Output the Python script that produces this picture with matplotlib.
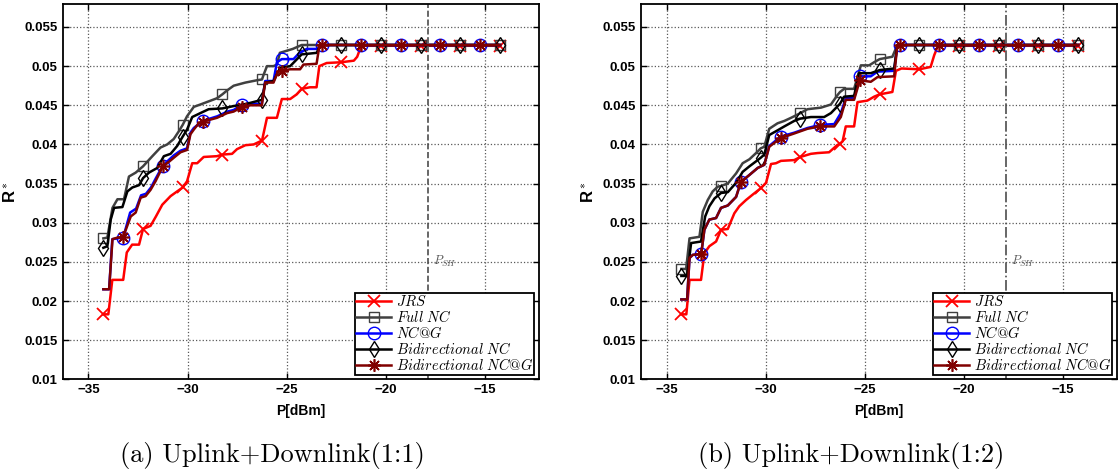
import numpy as np
import matplotlib
matplotlib.use('Agg')
import matplotlib.pyplot as plt

plt.rcParams['mathtext.fontset'] = 'cm'
plt.rcParams['font.family'] = ['Liberation Sans', 'DejaVu Sans']

# marker positions (dB)
MK_EVEN = [-34.25, -32.25, -30.25, -28.25, -26.25, -24.25, -22.25, -20.25, -18.25, -16.25, -14.25]
MK_ODD = [-33.25, -31.25, -29.25, -27.25, -25.25, -23.25, -21.25, -19.25, -17.25, -15.25]
P_SH = -17.9

# ---- (a) Uplink+Downlink(1:1) ----
a_jrs_x = [-34.25, -34.0, -33.8, -33.25, -33.07, -32.8, -32.45, -32.25, -31.87, -31.6, -31.28, -30.86, -30.53,
           -30.25, -30.03, -29.77, -29.52, -29.19, -28.52, -28.25, -27.76, -27.51, -27.09, -26.67, -26.25, -26.0,
           -25.5, -25.25, -24.83, -24.5, -24.25, -23.83, -23.5, -23.36, -22.99, -22.25, -21.62, -21.45, -21.25,
           -20.25, -18.25, -16.25, -14.25]
a_jrs_y = [.0183, .0183, .0227, .0227, .0262, .0272, .0272, .0292, .0296, .0308, .0323, .0334, .0340,
           .0345, .0353, .0376, .0376, .0384, .0385, .0387, .0388, .0394, .0399, .0400, .0405, .0434,
           .0434, .0458, .0458, .0464, .0471, .0473, .0473, .0500, .0504, .0505, .0507, .0512, .0526,
           .0526, .0526, .0526, .0526]

a_full_x = [-34.25, -34.05, -33.79, -33.54, -33.21, -32.96, -32.62, -32.25, -31.78, -31.37, -31.03, -30.7, -30.44,
            -30.25, -30.03, -29.69, -29.36, -28.94, -28.52, -28.25, -28.01, -27.68, -27.09, -26.5, -26.25, -26.17,
            -26.0, -25.67, -25.5, -25.35, -24.7, -24.25, -22.25, -20.25, -18.25, -16.25, -14.25]
a_full_y = [.0280, .0281, .0319, .0330, .0330, .0359, .0364, .0372, .0385, .0396, .0400, .0407, .0417,
            .0425, .0436, .0448, .0451, .0455, .0459, .0464, .0469, .0475, .0479, .0482, .0483, .0489,
            .0500, .0500, .0502, .0517, .0522, .0527, .0527, .0527, .0527, .0527, .0527]

a_ncg_x = [-34.25, -33.96, -33.8, -33.25, -32.9, -32.6, -32.35, -32.1, -31.85, -31.6, -31.25, -31.0, -30.7,
           -30.36, -30.03, -29.86, -29.69, -29.25, -28.5, -28.0, -27.68, -27.25, -26.84, -26.26, -26.09, -25.67,
           -25.5, -25.25, -24.66, -24.4, -24.0, -23.45, -23.25, -21.25, -19.25, -17.25, -15.25, -14.25]
a_ncg_y = [.0215, .0215, .0279, .0281, .0313, .0318, .0335, .0337, .0345, .0357, .0373, .0379, .0386,
           .0392, .0395, .0415, .0421, .0430, .0436, .0442, .0444, .0451, .0452, .0452, .0481, .0481,
           .0505, .0509, .0509, .0516, .0522, .0522, .0527, .0527, .0527, .0527, .0527, .0527]

a_bnc_x = [-34.25, -34.05, -33.88, -33.71, -33.29, -33.04, -32.79, -32.45, -32.25, -31.95, -31.53, -31.2, -30.86,
           -30.53, -30.25, -30.03, -29.77, -29.36, -28.94, -28.25, -27.68, -27.01, -26.25, -26.09, -25.67, -25.33,
           -24.83, -24.25, -23.49, -23.32, -22.25, -20.25, -18.25, -16.25, -14.25]
a_bnc_y = [.0268, .0270, .0304, .0319, .0320, .0340, .0345, .0348, .0357, .0364, .0370, .0385, .0388,
           .0398, .0410, .0419, .0435, .0440, .0445, .0446, .0449, .0452, .0457, .0479, .0481, .0498,
           .0500, .0515, .0517, .0527, .0527, .0527, .0527, .0527, .0527]

a_bncg_x = [-34.25, -33.96, -33.79, -33.54, -33.25, -32.87, -32.62, -32.37, -32.12, -31.87, -31.62, -31.25, -31.03,
            -30.7, -30.36, -30.03, -29.86, -29.69, -29.44, -29.25, -28.52, -28.01, -27.68, -27.25, -26.84, -26.26,
            -26.09, -25.67, -25.45, -25.25, -24.83, -24.33, -24.16, -23.5, -23.35, -23.25, -21.25, -19.25, -17.25,
            -15.25, -14.25]
a_bncg_y = [.0215, .0215, .0279, .0281, .0282, .0308, .0313, .0332, .0334, .0342, .0353, .0372, .0376,
            .0383, .0390, .0393, .0413, .0419, .0427, .0429, .0434, .0440, .0442, .0448, .0450, .0450,
            .0479, .0479, .0493, .0494, .0496, .0496, .0502, .0503, .0527, .0527, .0527, .0527, .0527,
            .0527, .0527]

# ---- (b) Uplink+Downlink(1:2) ----
b_jrs_x = [-34.25, -34.0, -33.84, -33.26, -33.09, -32.84, -32.5, -32.25, -31.91, -31.58, -31.33, -30.99, -30.65,
           -30.25, -29.98, -29.73, -29.48, -29.23, -28.56, -28.25, -27.72, -27.38, -26.8, -26.4, -26.25, -26.12,
           -25.96, -25.54, -25.37, -24.87, -24.53, -24.25, -23.61, -23.43, -23.15, -22.25, -21.68, -21.5, -21.31,
           -20.25, -18.25, -16.25, -14.25]
b_jrs_y = [.0183, .0183, .0227, .0227, .0261, .0270, .0276, .0291, .0292, .0312, .0321, .0329, .0336,
           .0344, .0351, .0375, .0376, .0379, .0380, .0384, .0388, .0389, .0390, .0399, .0401, .0404,
           .0423, .0423, .0454, .0456, .0461, .0464, .0467, .0494, .0497, .0496, .0499, .0514, .0526,
           .0526, .0526, .0526, .0526]

b_full_x = [-34.25, -34.01, -33.84, -33.34, -33.17, -32.92, -32.67, -32.42, -32.25, -31.91, -31.49, -31.16, -30.82,
            -30.4, -30.25, -30.07, -29.82, -29.4, -29.06, -28.72, -28.25, -27.89, -27.21, -26.71, -26.38, -26.25,
            -26.04, -25.54, -25.2, -24.78, -24.53, -24.25, -23.61, -23.36, -22.25, -20.25, -18.25, -16.25, -14.25]
b_full_y = [.0241, .0241, .0280, .0282, .0314, .0329, .0340, .0346, .0347, .0350, .0363, .0376, .0381,
            .0391, .0395, .0397, .0420, .0427, .0430, .0434, .0440, .0445, .0447, .0451, .0463, .0467,
            .0471, .0471, .0501, .0501, .0505, .0509, .0512, .0527, .0527, .0527, .0527, .0527, .0527]

b_ncg_x = [-34.25, -33.96, -33.84, -33.67, -33.25, -33.09, -32.84, -32.5, -32.25, -31.91, -31.49, -31.25, -30.82,
           -30.4, -30.07, -29.82, -29.25, -28.56, -27.89, -27.25, -26.54, -26.21, -25.96, -25.54, -25.25, -24.7,
           -24.36, -23.52, -23.36, -23.25, -21.25, -19.25, -17.25, -15.25, -14.25]
b_ncg_y = [.0202, .0202, .0255, .0259, .0260, .0291, .0304, .0306, .0319, .0322, .0333, .0352, .0361,
           .0370, .0374, .0398, .0410, .0415, .0421, .0425, .0426, .0440, .0459, .0459, .0487, .0487,
           .0493, .0494, .0527, .0527, .0527, .0527, .0527, .0527, .0527]

b_bnc_x = [-34.25, -33.96, -33.76, -33.26, -33.05, -32.84, -32.58, -32.25, -31.91, -31.49, -31.16, -30.82, -30.4,
           -30.25, -30.07, -29.82, -29.4, -29.06, -28.56, -28.25, -27.72, -27.05, -26.71, -26.25, -26.04, -25.54,
           -25.29, -24.7, -24.25, -23.52, -23.36, -22.25, -20.25, -18.25, -16.25, -14.25]
b_bnc_y = [.0232, .0232, .0274, .0276, .0308, .0321, .0331, .0338, .0339, .0351, .0365, .0372, .0380,
           .0383, .0387, .0412, .0418, .0423, .0430, .0433, .0435, .0435, .0440, .0452, .0461, .0462,
           .0491, .0491, .0495, .0497, .0527, .0527, .0527, .0527, .0527, .0527]

b_bncg_x = [-34.25, -33.96, -33.84, -33.67, -33.25, -33.09, -32.84, -32.5, -32.25, -31.91, -31.49, -31.25, -30.82,
            -30.4, -30.07, -29.82, -29.25, -28.56, -27.89, -27.25, -26.54, -26.21, -25.96, -25.54, -25.25, -24.7,
            -24.36, -23.52, -23.36, -23.25, -21.25, -19.25, -17.25, -15.25, -14.25]
b_bncg_y = [.0202, .0202, .0255, .0259, .0260, .0291, .0304, .0306, .0319, .0322, .0333, .0352, .0361,
            .0370, .0374, .0397, .0408, .0414, .0420, .0423, .0423, .0435, .0457, .0457, .0482, .0480,
            .0486, .0487, .0527, .0527, .0527, .0527, .0527, .0527, .0527]

LABELS = [r'$JRS$', r'$Full\ NC$', r'$NC@G$', r'$Bidirectional\ NC$', r'$Bidirectional\ NC@G$']
STYLES = [
    dict(color='#ff0000', marker='x', ms=8.5, mew=1.3, lw=1.8),
    dict(color='#404040', marker='s', ms=7.5, mew=1.0, mfc='none', lw=1.8),
    dict(color='#0000ff', marker='o', ms=9, mew=1.0, mfc='none', lw=1.8),
    dict(color='#000000', marker='d', ms=8.2, mew=1.0, mfc='none', lw=1.8),
    dict(color='#800000', marker=(8, 2, 0), ms=9, mew=1.2, lw=1.8),
]
MARKS = [MK_EVEN, MK_EVEN, MK_ODD, MK_EVEN, MK_ODD]

panels = [
    ('(a) Uplink+Downlink(1:1)', '--',
     [(a_jrs_x, a_jrs_y), (a_full_x, a_full_y), (a_ncg_x, a_ncg_y), (a_bnc_x, a_bnc_y), (a_bncg_x, a_bncg_y)]),
    ('(b) Uplink+Downlink(1:2)', '-.',
     [(b_jrs_x, b_jrs_y), (b_full_x, b_full_y), (b_ncg_x, b_ncg_y), (b_bnc_x, b_bnc_y), (b_bncg_x, b_bncg_y)]),
]

fig = plt.figure(figsize=(11.18, 4.72), dpi=100)
lefts = [0.0561, 0.5731]

for left, (caption, psh_ls, series) in zip(lefts, panels):
    ax = fig.add_axes([left, 0.1964, 0.4257, 0.7945])
    for (xs, ys), lab, st, mk in zip(series, LABELS, STYLES, MARKS):
        xs = np.array(xs)
        idx = [int(np.argmin(np.abs(xs - m))) for m in mk]
        ax.plot(xs, ys, label=lab, markevery=idx, **st)

    ax.axvline(P_SH, color='0.3', ls=psh_ls, lw=1.2)
    ax.text(P_SH + 0.25, 0.025, r'$P_{SH}$', fontsize=9, color='0.35', va='center')

    ax.set_xlim(-36.3, -12.3)
    ax.set_ylim(0.01, 0.0579)
    ax.set_xticks([-35, -30, -25, -20, -15])
    ax.set_xticklabels(['\u221235', '\u221230', '\u221225', '\u221220', '\u221215'])
    ax.set_yticks([0.01, 0.015, 0.02, 0.025, 0.03, 0.035, 0.04, 0.045, 0.05, 0.055])
    ax.set_yticklabels(['0.01', '0.015', '0.02', '0.025', '0.03', '0.035', '0.04', '0.045', '0.05', '0.055'])
    ax.tick_params(direction='in', top=True, right=True, length=4, width=1, labelsize=9.5)
    for lbl in ax.get_xticklabels() + ax.get_yticklabels():
        lbl.set_fontweight('bold')
    for sp in ax.spines.values():
        sp.set_linewidth(1.3)
    ax.grid(True, ls=':', color='0.35', lw=0.9)

    ax.set_xlabel('P[dBm]', fontsize=10, fontweight='bold', labelpad=6)
    ax.set_ylabel(r'R$^*$', fontsize=12, fontweight='bold', labelpad=4)

    leg = ax.legend(loc='lower right', fontsize=10.5, frameon=True, fancybox=False, framealpha=1,
                    edgecolor='black', borderaxespad=0.3, labelspacing=0.0, handlelength=2.4,
                    handletextpad=0.3, borderpad=0.1)
    leg.get_frame().set_linewidth(1.3)

    fig.text(left + 0.4257 / 2 - 0.025, 0.036, caption, family='cmr10', fontsize=19,
             ha='center', va='center')

fig.savefig('out.png', dpi=100)
